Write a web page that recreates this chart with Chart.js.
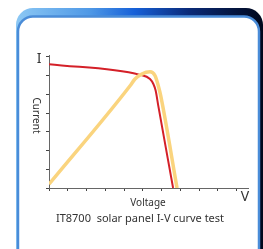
<!DOCTYPE html>
<html>
<head>
<meta charset="utf-8">
<script src="https://cdn.jsdelivr.net/npm/chart.js@4"></script>
<style>
  html, body { margin: 0; padding: 0; background: #fff; }
  canvas { display: block; }
</style>
</head>
<body>
<canvas id="myChart" width="263" height="249"></canvas>
<script>
// I-V curve (red)
const ivVoltage = [0, 4.85, 5.38, 5.56, 5.68, 5.82, 6.61];
const ivCurrent = [6.61, 6.04, 5.82, 5.55, 5.2, 4.4, 0];

// P-V curve (yellow)
const pvVoltage = [0, 4.32, 4.58, 4.94, 5.38, 5.65, 5.82, 5.95, 6.82];
const pvPower = [0.2, 5.46, 5.82, 6.08, 6.2, 5.99, 5.46, 4.93, 0];

// Labels
const xLabel = 'Voltage';
const yLabel = 'Current';
const xUnit = 'V';
const yUnit = 'I';
const caption = 'IT8700  solar panel I-V curve test';

function toPoints(xs, ys) {
    return xs.map((x, i) => ({ x: x, y: ys[i] }));
}

// frame + texts
const decor = {
    id: 'decor',
    beforeDraw(chart) {
        const ctx = chart.ctx;
        ctx.save();
        // header band
        const grad = ctx.createLinearGradient(16, 0, 263, 0);
        grad.addColorStop(0, '#8cc8f4');
        grad.addColorStop(0.3, '#4e98e6');
        grad.addColorStop(0.48, '#1660d8');
        grad.addColorStop(0.7, '#0a2a78');
        grad.addColorStop(1, '#00081c');
        ctx.fillStyle = grad;
        ctx.beginPath();
        ctx.roundRect(16, 8, 247, 270, 17);
        ctx.fill();
        // white panel
        ctx.fillStyle = '#fff';
        ctx.strokeStyle = '#4a8cd8';
        ctx.lineWidth = 2.5;
        ctx.beginPath();
        ctx.roundRect(18, 16.5, 241, 260, 15);
        ctx.fill();
        ctx.stroke();
        ctx.restore();
    },
    afterDraw(chart) {
        const ctx = chart.ctx;
        ctx.save();
        ctx.fillStyle = '#333';
        ctx.textAlign = 'center';
        ctx.textBaseline = 'middle';
        ctx.font = '14px "Noto Sans"';
        ctx.fillText(yUnit, 39, 59);
        ctx.fillText(xUnit, 245, 197);
        ctx.font = '10px "Noto Sans"';
        ctx.fillText(xLabel, 148, 203);
        ctx.save();
        ctx.translate(36, 115.5);
        ctx.rotate(Math.PI / 2);
        ctx.fillText(yLabel, 0, 0);
        ctx.restore();
        ctx.font = '11px "Noto Sans"';
        ctx.fillText(caption, 140, 219);
        ctx.restore();
    }
};

const axisStyle = {
    grid: { drawOnChartArea: false, drawTicks: true, tickLength: 3, color: '#444', lineWidth: 1 },
    border: { color: '#666', width: 1 },
};

var ctx = document.getElementById('myChart');

var myChart = new Chart(ctx, {
    type: 'line',
    data: {
        datasets: [{
            label: 'P-V',
            data: toPoints(pvVoltage, pvPower),
            borderColor: '#fad47e',
            borderWidth: 3.5,
            pointRadius: 0,
            cubicInterpolationMode: 'monotone',
            fill: false,
        }, {
            label: 'I-V',
            data: toPoints(ivVoltage, ivCurrent),
            borderColor: '#d42028',
            borderWidth: 2,
            pointRadius: 0,
            cubicInterpolationMode: 'monotone',
            fill: false,
        }]
    },
    options: {
        responsive: false,
        animation: false,
        layout: { padding: { left: 46, right: 15, top: 55, bottom: 58 } },
        plugins: { legend: { display: false }, tooltip: { enabled: false } },
        scales: {
            x: {
                type: 'linear', min: 0, max: 10.6,
                ticks: { display: false, stepSize: 1, includeBounds: false },
                ...axisStyle
            },
            y: {
                type: 'linear', min: 0, max: 7.1,
                ticks: { display: false, stepSize: 1, includeBounds: false },
                ...axisStyle
            }
        }
    },
    plugins: [decor]
});
</script>
</body>
</html>
